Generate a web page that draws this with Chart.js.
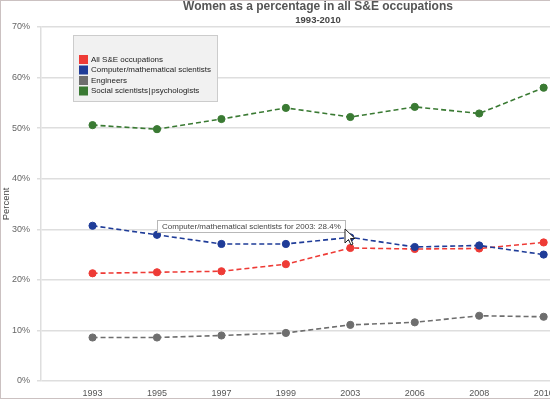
<!DOCTYPE html>
<html>
<head>
<meta charset="utf-8">
<script src="https://cdn.jsdelivr.net/npm/chart.js@4/dist/chart.umd.min.js"></script>
<style>
  html, body { margin: 0; padding: 0; background: #fff; overflow: hidden; width: 550px; height: 400px; }
  #frame { position: absolute; left: 0; top: 0; width: 634px; height: 397px; border: 1px solid #cbc1c1; border-right: none; background: #fff; }
  canvas { display: block; }
</style>
</head>
<body>
<div id="frame"><canvas id="c" width="634" height="397"></canvas></div>
<script>
const categories = ['1993', '1995', '1997', '1999', '2003', '2006', '2008', '2010'];
const seriesNames = ['All S&E occupations', 'Computer/mathematical scientists', 'Engineers', 'Social scientists\u200a|\u200apsychologists'];
const allSE      = [21.3, 21.5, 21.7, 23.1, 26.3, 26.1, 26.2, 27.4];
const compMath   = [30.7, 28.9, 27.1, 27.1, 28.4, 26.5, 26.8, 25.0];
const engineers  = [8.6, 8.6, 9.0, 9.5, 11.1, 11.6, 12.9, 12.7];
const social     = [50.6, 49.8, 51.8, 54.0, 52.2, 54.2, 52.9, 58.0];
const seriesColors = ['#ee3b36', '#1f3c98', '#6e6e6e', '#3a7a33'];
const tooltipSeries = 1;   // Computer/mathematical scientists
const tooltipIndex = 4;    // 2003

const seriesValues = [allSE, compMath, engineers, social];
const toPoints = arr => arr.map((v, i) => ({ x: i, y: v }));

const datasets = seriesValues.map((vals, k) => ({
  label: seriesNames[k],
  data: toPoints(vals),
  borderColor: seriesColors[k],
  backgroundColor: seriesColors[k],
  pointBackgroundColor: seriesColors[k],
  pointBorderColor: seriesColors[k],
  pointRadius: 3.6,
  pointBorderWidth: 1,
  borderWidth: 1.6,
  borderDash: [5, 3],
  tension: 0,
  order: k === 1 ? 0 : 1
}));

const FONT = "'Liberation Sans', Arial, sans-serif";

const boxLegend = {
  id: 'boxLegend',
  afterDatasetsDraw(chart) {
    const ctx = chart.ctx;
    const a = chart.chartArea;
    const x0 = a.left + 32, y0 = a.top + 8, w = 145, h = 67;
    ctx.save();
    ctx.fillStyle = '#f1f1f1';
    ctx.fillRect(x0, y0, w, h);
    ctx.strokeStyle = '#cccccc';
    ctx.lineWidth = 1;
    ctx.strokeRect(x0 + 0.5, y0 + 0.5, w - 1, h - 1);
    ctx.font = '8px ' + FONT;
    ctx.textBaseline = 'middle';
    chart.data.datasets.forEach((ds, i) => {
      const cy = y0 + 24 + i * 10.5;
      ctx.fillStyle = ds.borderColor;
      ctx.fillRect(x0 + 6, cy - 4, 9, 9);
      ctx.fillStyle = '#222';
      ctx.fillText(ds.label, x0 + 18, cy + 0.5);
    });
    ctx.restore();
  }
};

const staticTip = {
  id: 'staticTip',
  afterDraw(chart) {
    const ctx = chart.ctx;
    const ds = chart.data.datasets[tooltipSeries];
    const el = chart.getDatasetMeta(tooltipSeries).data[tooltipIndex];
    const text = ds.label + ' for ' + categories[tooltipIndex] + ': ' + seriesValues[tooltipSeries][tooltipIndex] + '%';
    ctx.save();
    ctx.font = '8px ' + FONT;
    const tw = ctx.measureText(text).width;
    const w = Math.round(tw + 10), h = 13;
    const right = Math.round(el.x) - 4, bottom = Math.round(el.y) - 4;
    const x0 = right - w, y0 = bottom - h;
    ctx.fillStyle = 'rgba(255,255,255,0.95)';
    ctx.fillRect(x0, y0, w, h);
    ctx.strokeStyle = '#b8b8b8';
    ctx.lineWidth = 1;
    ctx.strokeRect(x0 + 0.5, y0 + 0.5, w - 1, h - 1);
    ctx.fillStyle = '#444';
    ctx.textBaseline = 'middle';
    ctx.fillText(text, x0 + 5, y0 + h / 2 + 0.5);
    // mouse cursor
    const cx = right - 1, cy = bottom - 4;
    ctx.beginPath();
    ctx.moveTo(cx, cy);
    ctx.lineTo(cx, cy + 14);
    ctx.lineTo(cx + 3.5, cy + 10.5);
    ctx.lineTo(cx + 6, cy + 16);
    ctx.lineTo(cx + 8, cy + 15);
    ctx.lineTo(cx + 5.5, cy + 9.5);
    ctx.lineTo(cx + 10, cy + 9.5);
    ctx.closePath();
    ctx.fillStyle = '#fff';
    ctx.fill();
    ctx.strokeStyle = '#222';
    ctx.stroke();
    ctx.restore();
  }
};

new Chart(document.getElementById('c'), {
  type: 'line',
  data: { datasets },
  plugins: [boxLegend, staticTip],
  options: {
    responsive: false,
    animation: false,
    events: [],
    layout: { padding: { left: 0, right: 0, top: 0, bottom: 0 } },
    plugins: {
      legend: { display: false },
      tooltip: { enabled: false },
      title: {
        display: true,
        text: 'Women as a percentage in all S&E occupations',
        color: '#555',
        font: { family: FONT, size: 12, weight: 'bold', lineHeight: 1 },
        padding: { top: 0, bottom: 0 }
      },
      subtitle: {
        display: true,
        text: '1993-2010',
        color: '#444',
        font: { family: FONT, size: 9.5, weight: 'bold', lineHeight: 1 },
        padding: { top: 2.5, bottom: 2 }
      }
    },
    scales: {
      x: {
        type: 'linear',
        min: -0.8,
        max: 8.34,
        afterBuildTicks: s => { s.ticks = categories.map((_, i) => ({ value: i })); },
        afterFit: s => { s.height = 17; },
        grid: { display: false, drawTicks: false, tickLength: 0 },
        border: { display: false },
        ticks: {
          callback: v => categories[v] ?? '',
          color: '#555',
          font: { family: FONT, size: 9 },
          padding: 7,
          maxRotation: 0,
          autoSkip: false
        }
      },
      y: {
        min: 0,
        max: 70,
        afterFit: s => { s.width = 40; },
        grid: { color: '#dedede', lineWidth: 1.5, tickLength: 4 },
        border: { display: true, color: '#dedede', width: 1.5 },
        ticks: {
          stepSize: 10,
          callback: v => v + '%',
          color: '#666',
          font: { family: FONT, size: 9 },
          padding: 7
        },
        title: {
          display: true,
          text: 'Percent',
          color: '#444',
          font: { family: FONT, size: 9.5 },
          padding: 0
        }
      }
    }
  }
});
</script>
</body>
</html>
